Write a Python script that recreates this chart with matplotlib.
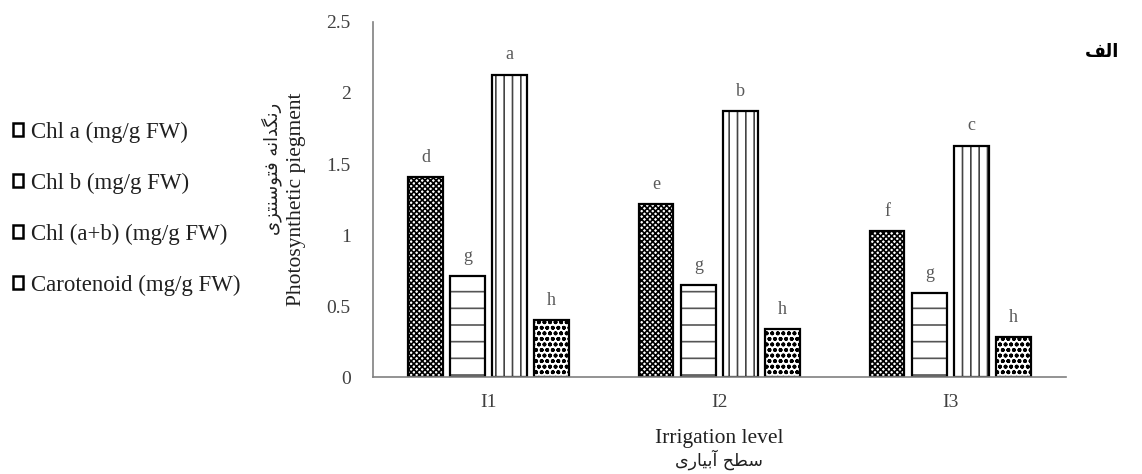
import numpy as np
import matplotlib
matplotlib.use("Agg")
import matplotlib.pyplot as plt
from matplotlib.patches import Patch

plt.rcParams['font.family'] = ['Liberation Serif', 'DejaVu Sans']
plt.rcParams['hatch.linewidth'] = 1.2

# data
levels = ['I1', 'I2', 'I3']
series = ['Chl a (mg/g FW)', 'Chl b (mg/g FW)', 'Chl (a+b) (mg/g FW)', 'Carotenoid (mg/g FW)']
chl_a = [1.41, 1.22, 1.03]
chl_b = [0.71, 0.65, 0.59]
chl_ab = [2.13, 1.87, 1.63]
carot = [0.40, 0.34, 0.28]
letters_a = ['d', 'e', 'f']
letters_b = ['g', 'g', 'g']
letters_ab = ['a', 'b', 'c']
letters_car = ['h', 'h', 'h']

# Persian text, pre-shaped (presentation forms, visual order)
fa_xlabel = "\uFBFC\uFEAD\uFE8E\uFBFF\uFE91\uFE81 \uFEA2\uFEC4\uFEB3"
fa_ylabel = "\uFBFC\uFEB0\uFE98\uFEE8\uFEB3\uFEEE\uFE98\uFED3 \uFEEA\uFEE7\uFE8D\uFEAA\uFB95\uFEE7\uFEAD"
fa_title = "\uFED2\uFEDF\uFE8D"

values = [chl_a, chl_b, chl_ab, carot]
letters = [letters_a, letters_b, letters_ab, letters_car]
hatches = ['xxxxxx', '-', '||', 'ooo']
hatch_cols = ['black', '#555555', '#444444', 'black']

fig = plt.figure(figsize=(11.42, 4.74), dpi=100)
ax = fig.add_axes([0.3266, 0.2046, 0.6068, 0.749])

x = np.arange(len(levels))
step = 0.182
width = 0.148
handles = []
for i, (vals, labs, h, hc, name) in enumerate(zip(values, letters, hatches, hatch_cols, series)):
    pos = x + (i - 1.5) * step
    # hatch layer, then black outline on top
    ax.bar(pos, vals, width, color='white', edgecolor=hc, linewidth=0, hatch=h)
    bars = ax.bar(pos, vals, width, fill=False, edgecolor='black', linewidth=1.6)
    for b, lab in zip(bars, labs):
        ax.annotate(lab, (b.get_x() + b.get_width() / 2, b.get_height()),
                    xytext=(0, 8), textcoords='offset points', ha='center',
                    va='bottom', fontsize=13, color='#595959')
    handles.append(Patch(facecolor='white', edgecolor='black', linewidth=1.8,
                         label=name))

ax.set_xlim(-0.5, 2.5)
ax.set_ylim(0, 2.5)
ax.set_yticks([0, 0.5, 1, 1.5, 2, 2.5])
ax.set_yticklabels(['0', '0.5', '1', '1.5', '2', '2.5'])
ax.set_xticks(x)
ax.set_xticklabels(levels)
ax.tick_params(axis='both', length=0, labelsize=14, labelcolor='#404040')
ax.tick_params(axis='y', pad=16)
ax.tick_params(axis='x', pad=12)
for s in ['top', 'right']:
    ax.spines[s].set_visible(False)
for s in ['left', 'bottom']:
    ax.spines[s].set_color('#808080')
    ax.spines[s].set_linewidth(1.2)

ax.text(-0.11, 0.5, 'Photosynthetic piegment', transform=ax.transAxes,
        rotation=90, ha='center', va='center', fontsize=15.5, color='#202020')
ax.text(-0.146, 0.585, fa_ylabel, transform=ax.transAxes, rotation=90,
        ha='center', va='center', fontsize=13, family='DejaVu Sans', color='#202020')

ax.text(0.5, -0.172, 'Irrigation level', transform=ax.transAxes,
        ha='center', va='center', fontsize=15.5, color='#202020')
ax.text(0.5, -0.232, fa_xlabel, transform=ax.transAxes,
        ha='center', va='center', fontsize=12.5, family='DejaVu Sans', color='#202020')

fig.text(0.965, 0.89, fa_title, ha='center', va='center', fontsize=13,
         fontweight='bold', family='DejaVu Sans')

fig.legend(handles=handles, loc='center left', bbox_to_anchor=(-0.007, 0.56),
           frameon=False, fontsize=16.5, handlelength=0.45, handleheight=0.45,
           handletextpad=0.35, labelspacing=1.3, labelcolor='#202020')

fig.savefig('out.png', dpi=100)
